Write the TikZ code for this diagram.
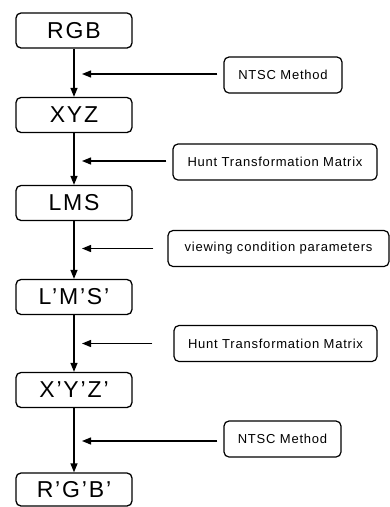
\documentclass[tikz,border=0pt]{standalone}
\usepackage{fontspec}
\setmainfont{Liberation Sans}
\newfontfamily\stagefont[LetterSpace=8]{Liberation Sans}
\newfontfamily\notefont[LetterSpace=6]{Liberation Sans}
\usetikzlibrary{arrows.meta}
\begin{document}
\begin{tikzpicture}[x=1pt,y=-1pt,
  stage/.style={draw, line width=1.3pt, rounded corners=5pt, minimum width=116pt,
    minimum height=35pt, inner sep=0pt, font=\stagefont\fontsize{23}{25}\selectfont},
  note/.style={draw, line width=1.2pt, rounded corners=5pt, minimum height=36pt,
    inner sep=0pt, font=\notefont\fontsize{13}{15}\selectfont},
  flow/.style={line width=1.3pt, -{Triangle[length=9pt,width=7pt]}},
  feed/.style={line width=1.2pt, -{Triangle[length=9pt,width=7pt]}}]
  \useasboundingbox (0,0) rectangle (390,507);

  % colour-space stages
  \node[stage] (rgb)  at (74,30.5) {RGB};
  \node[stage] (xyz)  at (74,115)  {XYZ};
  \node[stage] (lms)  at (74,203)  {LMS};
  \node[stage] (lmsp) at (74,297)  {L’M’S’};
  \node[stage] (xyzp) at (74,390)  {X’Y’Z’};
  \node[stage, minimum height=33pt] (rgbp) at (74,489.5) {R’G’B’};

  % transformation notes
  \node[note, minimum width=118pt] (ntsca) at (283,75)    {NTSC Method};
  \node[note, minimum width=204pt] (hunta) at (275,162)   {Hunt Transformation Matrix};
  \node[note, minimum width=221pt] (view)  at (278.5,248.5) {viewing condition parameters};
  \node[note, minimum width=203pt] (huntb) at (275.5,343.5) {Hunt Transformation Matrix};
  \node[note, minimum width=117pt] (ntscb) at (282.5,439) {NTSC Method};

  % arrow tips on the side of the main flow
  \coordinate (tip) at (82,0);

  % main flow
  \draw[flow] (rgb)  -- (xyz);
  \draw[flow] (xyz)  -- (lms);
  \draw[flow] (lms)  -- (lmsp);
  \draw[flow] (lmsp) -- (xyzp);
  \draw[flow] (xyzp) -- (rgbp);

  % feeds into the flow
  \draw[feed, shorten <=6pt]  ([yshift=1pt]ntsca.west) -- ([yshift=1pt]ntsca.west -| tip);
  \draw[feed, shorten <=6pt]  ([yshift=1pt]hunta.west) -- ([yshift=1pt]hunta.west -| tip);
  \draw[feed, shorten <=14pt] (view.west)  -- (view.west -| tip);
  \draw[feed, shorten <=21pt] (huntb.west) -- (huntb.west -| tip);
  \draw[feed, shorten <=6pt]  ([yshift=-2pt]ntscb.west) -- ([yshift=-2pt]ntscb.west -| tip);
\end{tikzpicture}
\end{document}
